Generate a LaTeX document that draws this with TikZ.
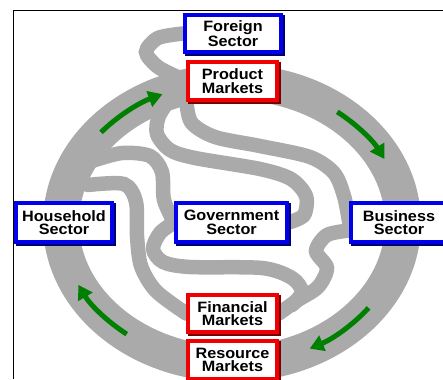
\documentclass[tikz,border=0pt]{standalone}
\usepackage{fontspec}
\newfontfamily\boxfont[FakeStretch=1.08]{Liberation Sans}
\usetikzlibrary{arrows.meta,backgrounds}
\definecolor{bandgray}{RGB}{170,170,170}
\definecolor{flowgreen}{RGB}{0,128,0}
\definecolor{secblue}{RGB}{0,0,235}
\definecolor{secnavy}{RGB}{0,0,110}
\definecolor{mktred}{RGB}{240,0,0}
\definecolor{mktdark}{RGB}{120,0,0}
\tikzset{
	box/.style 2 args={draw=#1, line width=3.5pt, fill=white, inner sep=0pt, align=center,
		font=\boxfont\bfseries\fontsize{15}{13.5}\selectfont,
		preaction={draw=#2, line width=3.5pt, transform canvas={xshift=1.8pt, yshift=-1.8pt}}},
	sector/.style={box={secblue}{secnavy}},
	market/.style={box={mktred}{mktdark}},
	ring/.style={draw=bandgray, line width=36pt},
	band/.style={draw=bandgray, line width=14.5pt, line cap=round},
	flow/.style={draw=flowgreen, line width=5pt, -{Triangle[length=14pt,width=16pt]}}
}
\begin{document}
\begin{tikzpicture}[x=1pt,y=-1pt]
	\useasboundingbox (0,0) rectangle (443,379);
	\draw[line width=1pt] (13,379) -- (13,11) -- (443,11);
	\node[sector, minimum width=96pt, minimum height=37pt] (foreign) at (233,33.5) {Foreign\\Sector};
	\node[market, minimum width=89pt, minimum height=38pt] (product) at (232.5,81) {Product\\Markets};
	\node[sector, minimum width=96pt, minimum height=39pt] (household) at (64,222.5) {Household\\Sector};
	\node[sector, minimum width=111pt, minimum height=39pt] (govt) at (231.5,222.5) {Government\\Sector};
	\node[sector, minimum width=96pt, minimum height=39pt] (business) at (399,222.5) {Business\\Sector};
	\node[market, minimum width=89pt, minimum height=37pt] (financial) at (232.5,313.5) {Financial\\Markets};
	\node[market, minimum width=89pt, minimum height=38pt] (resource) at (232.5,360) {Resource\\Markets};
	\coordinate (ringtop) at (180,78);
	\coordinate (ringhigh) at (92,161);
	\coordinate (ringlow) at (88,185);
	\begin{scope}[on background layer]
		\draw[ring] (232,223) ellipse [x radius=171, y radius=141];
		% flows that wind through the middle
		\draw[band] plot[smooth] coordinates {(foreign.west) (158,38) (146,52) (158,67) (ringtop)};
		\draw[band] plot[smooth] coordinates {(172,96) (159,116) (157,134) (170,150) (195,158) (260,169) (291,179) (306,196) (304,215) (govt.east)};
		\draw[band] plot[smooth] coordinates {(186,96) (191,122) (215,137) (260,146) (310,157) (334,173) (344,196) (business.west)};
		\draw[band] plot[smooth] coordinates {(ringhigh) (122,153) (150,156) (162,172) (164,200) (govt.west)};
		\draw[band] plot[smooth] coordinates {(ringlow) (124,184) (136,202) (137,236) (141,266) (156,291) (financial.west)};
		\draw[band] plot[smooth] coordinates {(govt.west) (160,233) (153,249) (163,262) (190,267) (262,268) (292,278) (302,292) (292,305)};
		\draw[band] plot[smooth] coordinates {([yshift=-8pt]business.west) (327,235) (316,251) (327,268) (318,287) (298,300) (financial.east)};
		\draw[flow] (232,223) ++(220:171 and 141) arc[start angle=220, end angle=246, x radius=171, y radius=141];
		\draw[flow] (232,223) ++(308:171 and 141) arc[start angle=308, end angle=333, x radius=171, y radius=141];
		\draw[flow] (232,223) ++(37:171 and 141) arc[start angle=37, end angle=63, x radius=171, y radius=141];
		\draw[flow] (232,223) ++(128:171 and 141) arc[start angle=128, end angle=154, x radius=171, y radius=141];
	\end{scope}
\end{tikzpicture}
\end{document}
